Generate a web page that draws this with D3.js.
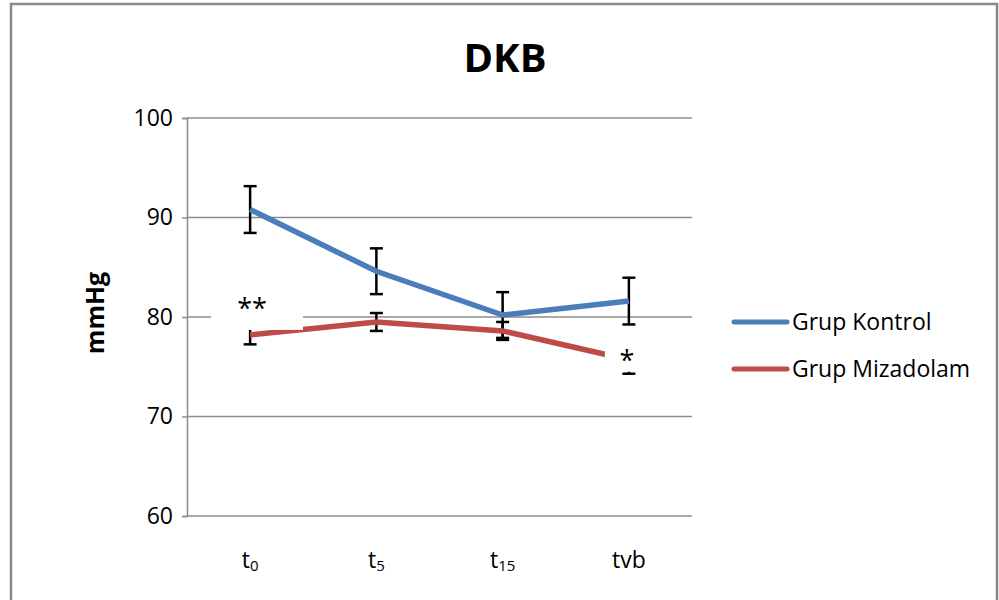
<!DOCTYPE html>
<html><head><meta charset="utf-8">
<script src="https://cdn.jsdelivr.net/npm/d3@7"></script>
<style>body{margin:0;background:#fff;}svg{display:block;font-family:"Open Sans","Liberation Sans",sans-serif;}</style>
</head><body><svg id="c" width="999" height="600"></svg>
<script>
const categories = ["t0","t5","t15","tvb"];
const catMain = ["t","t","t","tvb"];
const catSub = ["0","5","15",""];
const kontrol = [90.8, 84.6, 80.2, 81.6];
const kontrolErr = [2.35, 2.3, 2.3, 2.35];
const mizadolam = [78.2, 79.5, 78.6, 75.7];
const mizadolamErr = [0.95, 0.9, 0.9, 1.4];
const yTicks = [60, 70, 80, 90, 100];
const seriesNames = ["Grup Kontrol", "Grup Mizadolam"];
const colors = ["#4a7ebb", "#be4b48"];
const sigLabels = [{i:0, text:"**"}, {i:3, text:"*"}];

const svg = d3.select("#c");
svg.append("rect").attr("x",11).attr("y",4).attr("width",986).attr("height",610)
  .attr("fill","#fff").attr("stroke","#888").attr("stroke-width",2.5);

const x = d3.scaleBand().domain(categories).range([187,692]);
const y = d3.scaleLinear().domain([60,100]).range([516,118]);

svg.append("g").selectAll("line").data(yTicks).join("line")
  .attr("x1",187).attr("x2",692).attr("y1",d=>y(d)).attr("y2",d=>y(d))
  .attr("stroke","#8c8c8c").attr("stroke-width",1.5);

const ya = svg.append("g").attr("transform","translate(187,0)")
  .call(d3.axisLeft(y).tickValues(yTicks).tickSize(5).tickPadding(9));
ya.select(".domain").attr("stroke","#8c8c8c").attr("stroke-width",1.5);
ya.selectAll(".tick line").attr("stroke","#8c8c8c").attr("stroke-width",1.5);
ya.selectAll("text").attr("font-size",23).attr("fill","#000").attr("font-family","Open Sans");

const xl = svg.append("g").selectAll("text").data(categories).join("text")
  .attr("x",d=>x(d)+x.bandwidth()/2).attr("y",568).attr("text-anchor","middle")
  .attr("font-size",23).attr("fill","#000");
xl.each(function(d,i){
  const t=d3.select(this);
  t.append("tspan").text(catMain[i]);
  if(catSub[i]) t.append("tspan").text(catSub[i]).attr("font-size",15).attr("dy",3);
});

const cx = d => x(d)+x.bandwidth()/2;

function errorBars(vals, errs){
  const g = svg.append("g");
  vals.forEach((v,i)=>{
    const X = cx(categories[i]);
    g.append("line").attr("x1",X).attr("x2",X).attr("y1",y(v+errs[i])).attr("y2",y(v-errs[i]))
      .attr("stroke","#000").attr("stroke-width",2.5);
    [v+errs[i], v-errs[i]].forEach(e=>{
      g.append("line").attr("x1",X-6.5).attr("x2",X+6.5).attr("y1",y(e)).attr("y2",y(e))
        .attr("stroke","#000").attr("stroke-width",2.5);
    });
  });
}
errorBars(kontrol, kontrolErr);
errorBars(mizadolam, mizadolamErr);

const line = d3.line().x((d,i)=>cx(categories[i])).y(d=>y(d));
[kontrol, mizadolam].forEach((s,k)=>{
  svg.append("path").datum(s).attr("d",line).attr("fill","none")
    .attr("stroke",colors[k]).attr("stroke-width",5.5);
});

sigLabels.forEach(s=>{
  const X = cx(categories[s.i]);
  const v = mizadolam[s.i];
  if(s.i===0){
    svg.append("rect").attr("x",211).attr("y",y(v)-45).attr("width",92).attr("height",40).attr("fill","#fff");
    svg.append("text").attr("x",X+2).attr("y",y(v)-17).attr("text-anchor","middle")
      .attr("font-size",27).attr("fill","#000").text(s.text);
  } else {
    svg.append("rect").attr("x",X-24).attr("y",y(v)-16).attr("width",48).attr("height",28).attr("fill","#fff");
    svg.append("text").attr("x",X-2).attr("y",y(v)+10).attr("text-anchor","middle")
      .attr("font-size",27).attr("fill","#000").text(s.text);
  }
});

svg.append("text").attr("x",505).attr("y",72).attr("text-anchor","middle")
  .attr("font-size",40).attr("font-weight","bold").attr("fill","#000").text("DKB");

svg.append("text").attr("transform","translate(104,313) rotate(-90)").attr("text-anchor","middle")
  .attr("font-size",25).attr("font-weight","bold").attr("fill","#000").text("mmHg");

seriesNames.forEach((n,k)=>{
  const ly = 322 + k*47;
  svg.append("line").attr("x1",734).attr("x2",787).attr("y1",ly).attr("y2",ly)
    .attr("stroke",colors[k]).attr("stroke-width",5).attr("stroke-linecap","round");
  svg.append("text").attr("x",792).attr("y",ly+8).attr("font-size",23).attr("fill","#000").text(n);
});
</script></body></html>
